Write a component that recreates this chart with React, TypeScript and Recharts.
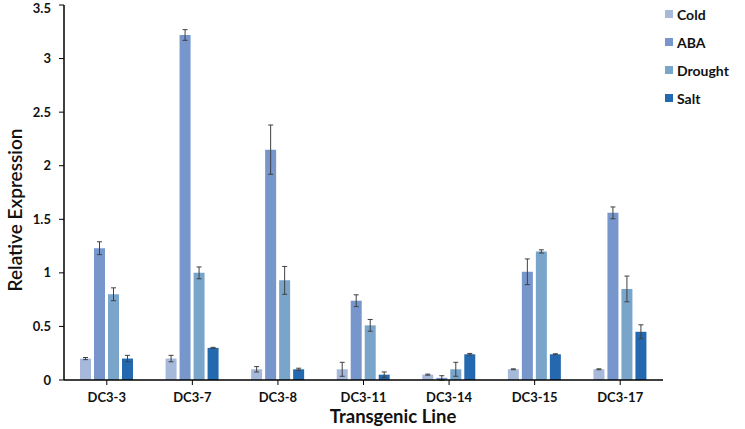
import { BarChart, Bar, XAxis, YAxis, Legend, ErrorBar } from "recharts";

// Relative expression per transgenic line
const lines = ["DC3-3", "DC3-7", "DC3-8", "DC3-11", "DC3-14", "DC3-15", "DC3-17"];
const cold = [0.2, 0.2, 0.1, 0.1, 0.05, 0.1, 0.1];
const aba = [1.23, 3.22, 2.15, 0.74, 0.02, 1.01, 1.56];
const drought = [0.8, 1.0, 0.93, 0.51, 0.1, 1.2, 0.85];
const salt = [0.2, 0.3, 0.1, 0.05, 0.24, 0.24, 0.45];

// standard errors
const coldErr = [0.01, 0.03, 0.025, 0.065, 0.005, 0.004, 0.004];
const abaErr = [0.06, 0.05, 0.23, 0.055, 0.02, 0.12, 0.055];
const droughtErr = [0.06, 0.055, 0.13, 0.055, 0.065, 0.015, 0.12];
const saltErr = [0.03, 0.005, 0.01, 0.025, 0.008, 0.005, 0.065];

const yTicks = [0, 0.5, 1, 1.5, 2, 2.5, 3, 3.5];

const series = [
    { key: "cold", name: "Cold", color: "#a6b9da" },
    { key: "aba", name: "ABA", color: "#7796cc" },
    { key: "drought", name: "Drought", color: "#79a5cb" },
    { key: "salt", name: "Salt", color: "#2469b0" },
];

const data = lines.map((line, i) => ({
    line,
    cold: cold[i],
    aba: aba[i],
    drought: drought[i],
    salt: salt[i],
    coldErr: coldErr[i],
    abaErr: abaErr[i],
    droughtErr: droughtErr[i],
    saltErr: saltErr[i],
}));

const font = "Lato, 'Open Sans', sans-serif";
const tickStyle = { fontFamily: font, fontSize: 13, fontWeight: 700, fill: "#111" };

function LegendBox() {
    return (
        <div style={{ fontFamily: font, fontSize: 14, fontWeight: 700, color: "#111" }}>
            {series.map((s) => (
                <div key={s.key} style={{ height: 28, display: "flex", alignItems: "center" }}>
                    <span style={{ width: 8, height: 8, background: s.color, marginRight: 4, display: "inline-block" }} />
                    {s.name}
                </div>
            ))}
        </div>
    );
}

export default function App() {
    return (
        <div style={{ position: "absolute", left: 0, top: 0, background: "#fff" }}>
            <BarChart
                width={745}
                height={429}
                data={data}
                margin={{ top: 5, right: 2, bottom: 0, left: 0 }}
                barCategoryGap={16}
                barGap={3}
            >
                <XAxis
                    dataKey="line"
                    height={49}
                    tick={tickStyle}
                    tickSize={5}
                    tickMargin={8}
                    axisLine={{ stroke: "#000", strokeWidth: 1.5 }}
                    tickLine={{ stroke: "#000" }}
                    label={{
                        content: () => (
                            <text
                                x={393}
                                y={423}
                                textAnchor="middle"
                                style={{ fontFamily: font, fontSize: 18.5, fontWeight: 700, fill: "#111" }}
                            >
                                Transgenic Line
                            </text>
                        ),
                    }}
                />
                <YAxis
                    width={64}
                    domain={[0, 3.5]}
                    ticks={yTicks}
                    tick={tickStyle}
                    tickSize={5}
                    tickMargin={8}
                    axisLine={{ stroke: "#000", strokeWidth: 1.5 }}
                    tickLine={{ stroke: "#000" }}
                    label={{
                        content: () => (
                            <text
                                x={14}
                                y={210}
                                transform="rotate(-90 14 210)"
                                textAnchor="middle"
                                dominantBaseline="central"
                                style={{ fontFamily: font, fontSize: 19, fontWeight: 600, fill: "#111" }}
                            >
                                Relative Expression
                            </text>
                        ),
                    }}
                />
                <Legend
                    layout="vertical"
                    verticalAlign="top"
                    align="right"
                    content={() => <LegendBox />}
                    wrapperStyle={{ top: 0, left: 665, width: 80 }}
                />
                {series.map((s) => (
                    <Bar key={s.key} dataKey={s.key} name={s.name} fill={s.color} isAnimationActive={false}>
                        <ErrorBar dataKey={`${s.key}Err`} width={2.5} stroke="#404040" strokeWidth={1} direction="y" />
                    </Bar>
                ))}
            </BarChart>
        </div>
    );
}
